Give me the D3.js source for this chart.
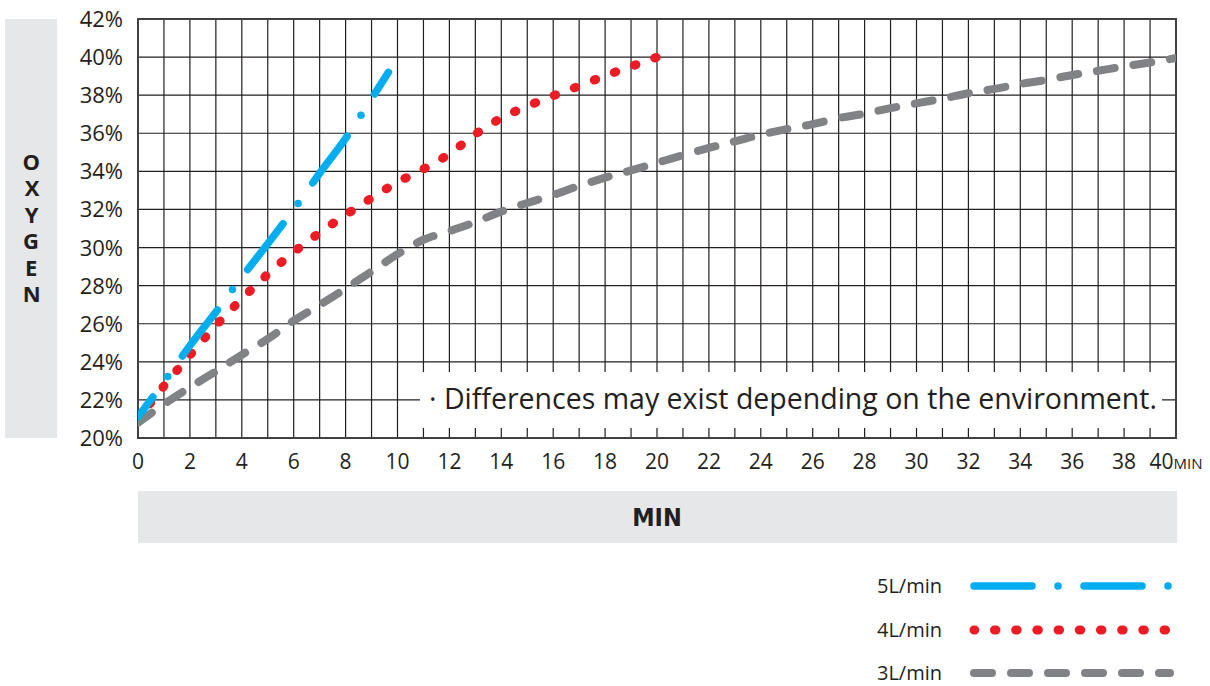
<!DOCTYPE html>
<html>
<head>
<meta charset="utf-8">
<script src="https://cdn.jsdelivr.net/npm/d3@7/dist/d3.min.js"></script>
<style>
body { margin: 0; background: #fff; }
text { font-family: "Open Sans", "Noto Sans", sans-serif; fill: #231f20; }
</style>
</head>
<body>
<svg width="1210" height="686"></svg>
<script>
// values
var minutes5 = [0, 1, 2, 3, 4, 5, 6, 7, 8, 9, 9.65];
var oxygen5  = [21.1, 22.95, 24.85, 26.62, 28.45, 30.2, 32.0, 33.9, 35.73, 37.82, 39.2];

var minutes4 = [0, 1, 2, 3, 4, 5, 6, 7, 8, 9, 10, 11, 12, 13, 14, 15, 16, 17, 18, 19, 20];
var oxygen4  = [21.0, 22.73, 24.35, 25.9, 27.3, 28.6, 29.76, 30.78, 31.71, 32.6, 33.43,
                34.12, 34.92, 35.95, 36.8, 37.42, 37.97, 38.48, 39.02, 39.51, 40.0];

var minutes3 = [0, 1, 2, 3, 4, 5, 6, 7, 8, 9, 10, 11, 12, 13, 14, 15, 16, 17, 18, 19, 20,
                21, 22, 23, 24, 25, 26, 27, 28, 29, 30, 31, 32, 33, 34, 35, 36, 37, 38, 39, 40];
var oxygen3  = [20.8, 21.78, 22.66, 23.5, 24.37, 25.2, 26.16, 26.98, 27.85, 28.74, 29.65,
                30.41, 30.86, 31.34, 31.89, 32.34, 32.76, 33.24, 33.67, 34.05, 34.45,
                34.85, 35.23, 35.58, 35.93, 36.22, 36.48, 36.8, 37.03, 37.32, 37.57,
                37.82, 38.1, 38.33, 38.59, 38.8, 39.06, 39.28, 39.51, 39.72, 39.95];

var seriesNames = ['5L/min', '4L/min', '3L/min'];
var xTicks = [0, 2, 4, 6, 8, 10, 12, 14, 16, 18, 20, 22, 24, 26, 28, 30, 32, 34, 36, 38, 40];
var yTicks = [20, 22, 24, 26, 28, 30, 32, 34, 36, 38, 40, 42];
var yTickLabels = ['20%', '22%', '24%', '26%', '28%', '30%', '32%', '34%', '36%', '38%', '40%', '42%'];
var yTitle = 'OXYGEN';
var note = '\u00b7 Differences may exist depending on the environment.';

var svg = d3.select('svg');

var plot = {l: 138, r: 1176, t: 19, b: 438};

var xScale = d3.scaleLinear().domain([0, 40]).range([plot.l, plot.r]);
var yScale = d3.scaleLinear().domain([20, 42]).range([plot.b, plot.t]);

// line styles
var styles = [
    {color: '#00aeef', width: 7.5, dash: '58 25.2 0 25.2', offset: 33},
    {color: '#ed1c24', width: 9, dash: '1.5 19.95', offset: -19},
    {color: '#808285', width: 8, dash: '18 19', offset: 1}
];

// grey title boxes
svg.append('rect')
    .attr('x', 5).attr('y', plot.t)
    .attr('width', 52).attr('height', plot.b - plot.t)
    .style('fill', '#e6e7e8');

svg.append('rect')
    .attr('x', plot.l).attr('y', 491)
    .attr('width', plot.r - plot.l + 1).attr('height', 52)
    .style('fill', '#e6e7e8');

// letters stacked top to bottom
svg.append('text')
    .attr('x', 31)
    .attr('y', 146)
    .style('writing-mode', 'vertical-rl')
    .style('text-orientation', 'upright')
    .style('letter-spacing', '-3.6px')
    .style('font-size', '22px')
    .style('font-weight', 'bold')
    .text(yTitle);

svg.append('text')
    .attr('x', (plot.l + plot.r) / 2)
    .attr('y', 526)
    .attr('text-anchor', 'middle')
    .style('font-family', '"DejaVu Sans Condensed", "Liberation Sans Narrow", sans-serif')
    .style('font-size', '25px')
    .style('font-weight', 'bold')
    .text('MIN');

// grid
var gridG = svg.append('g');

gridG.selectAll('.vgrid')
    .data(xScale.ticks(40))
    .enter().append('line')
    .attr('class', 'vgrid')
    .attr('x1', function(d) { return xScale(d); })
    .attr('x2', function(d) { return xScale(d); })
    .attr('y1', plot.t).attr('y2', plot.b)
    .style('stroke', '#231f20')
    .style('stroke-width', 1.2);

gridG.selectAll('.hgrid')
    .data(yTicks)
    .enter().append('line')
    .attr('class', 'hgrid')
    .attr('x1', plot.l).attr('x2', plot.r)
    .attr('y1', function(d) { return yScale(d); })
    .attr('y2', function(d) { return yScale(d); })
    .style('stroke', '#231f20')
    .style('stroke-width', 1.2);

// note box over the grid
svg.append('rect')
    .attr('x', 420).attr('y', 372)
    .attr('width', 742).attr('height', 56)
    .style('fill', '#fff');

svg.append('text')
    .attr('x', 429)
    .attr('y', 409)
    .style('font-size', '28.5px')
    .text(note);

// frame
svg.append('rect')
    .attr('x', plot.l).attr('y', plot.t)
    .attr('width', plot.r - plot.l).attr('height', plot.b - plot.t)
    .style('fill', 'none')
    .style('stroke', '#414042')
    .style('stroke-width', 2);

// tick labels
svg.selectAll('.ylabel')
    .data(yTicks)
    .enter().append('text')
    .attr('class', 'ylabel')
    .attr('x', 123)
    .attr('y', function(d) { return yScale(d) + 8; })
    .attr('text-anchor', 'end')
    .style('font-size', '22px')
    .text(function(d, i) { return yTickLabels[i]; });

var xLabels = svg.selectAll('.xlabel')
    .data(xTicks)
    .enter().append('text')
    .attr('class', 'xlabel')
    .attr('x', function(d) { return xScale(d); })
    .attr('y', 469)
    .attr('text-anchor', 'middle')
    .style('font-size', '21px')
    .text(function(d) { return d; });

xLabels.filter(function(d) { return d === 40; })
    .append('tspan')
    .style('font-size', '15px')
    .text('MIN');

// series
svg.append('clipPath')
    .attr('id', 'plot-clip')
    .append('rect')
    .attr('x', plot.l).attr('y', plot.t)
    .attr('width', plot.r - plot.l).attr('height', plot.b - plot.t);

var series = [
    {name: seriesNames[0], x: minutes5, y: oxygen5},
    {name: seriesNames[1], x: minutes4, y: oxygen4},
    {name: seriesNames[2], x: minutes3, y: oxygen3}
];

var line = d3.line()
    .x(function(d) { return xScale(d[0]); })
    .y(function(d) { return yScale(d[1]); })
    .curve(d3.curveMonotoneX);

var linesG = svg.append('g').attr('clip-path', 'url(#plot-clip)');

// draw grey first so blue sits on top
[2, 1, 0].forEach(function(i) {
    var s = series[i];
    var st = styles[i];
    linesG.append('path')
        .datum(s.x.map(function(m, j) { return [m, s.y[j]]; }))
        .attr('d', line)
        .style('fill', 'none')
        .style('stroke', st.color)
        .style('stroke-width', st.width)
        .style('stroke-linecap', 'round')
        .style('stroke-dasharray', st.dash)
        .style('stroke-dashoffset', st.offset);
});

// legend
var legendY = [586, 630, 673];
var legend = svg.selectAll('.legend')
    .data(series)
    .enter().append('g')
    .attr('class', 'legend')
    .attr('transform', function(d, i) { return 'translate(0,' + legendY[i] + ')'; });

legend.append('text')
    .attr('x', 942)
    .attr('y', 7)
    .attr('text-anchor', 'end')
    .style('font-size', '20px')
    .text(function(d) { return d.name; });

// legend swatches keep the reference spacing
var legendDash = ['58 26 0 26', '1.5 19.7', '18 19'];
legend.append('line')
    .attr('x1', 974).attr('x2', 1170)
    .attr('y1', 0).attr('y2', 0)
    .style('stroke', function(d, i) { return styles[i].color; })
    .style('stroke-width', function(d, i) { return styles[i].width; })
    .style('stroke-linecap', 'round')
    .style('stroke-dasharray', function(d, i) { return legendDash[i]; })
    .style('stroke-dashoffset', function(d, i) { return i === 1 ? 0.75 : 0; });
</script>
</body>
</html>
